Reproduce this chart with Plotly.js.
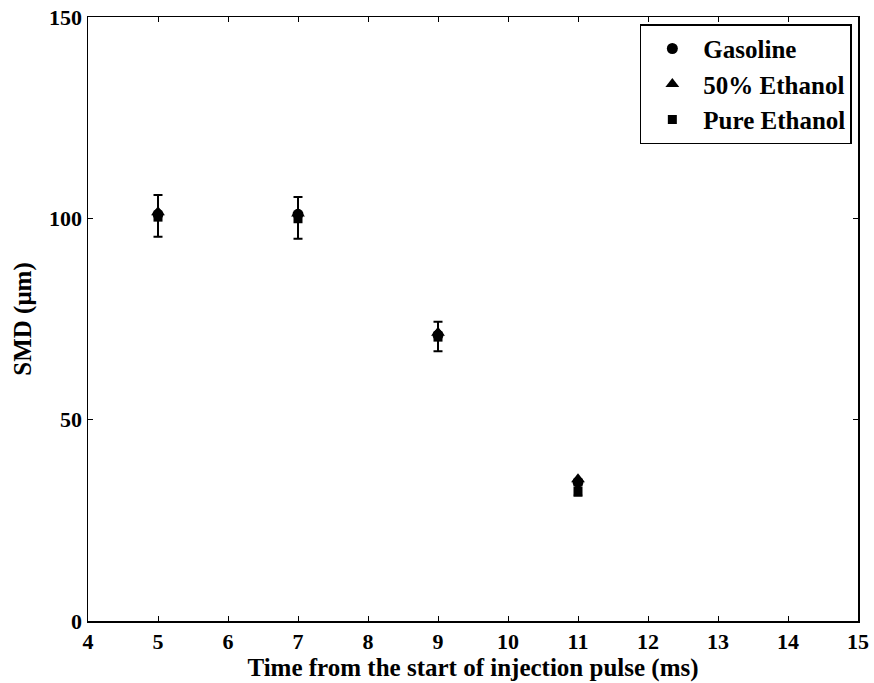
<!DOCTYPE html>
<html>
<head>
<meta charset="utf-8">
<script src="https://cdn.plot.ly/plotly-3.0.1.min.js"></script>
<style>html,body{margin:0;padding:0;background:#fff;}#chart{width:874px;height:683px;}</style>
</head>
<body>
<div id="chart"></div>
<script>
const times = [5, 7, 9, 11];
const gasoline = [101, 101, 71, 34.5];
const ethanol50 = [101.5, 101.2, 71.6, 35.2];
const pureEthanol = [100.3, 99.9, 70.5, 32.3];
const errPlus = [5.5, 5.4, 3.8, 1.5];
const errMinus = [4.9, 5.0, 3.5, 1.2];
const seriesNames = ['Gasoline', '50% Ethanol', 'Pure Ethanol'];
const xTicks = [4,5,6,7,8,9,10,11,12,13,14,15];
const yTicks = [0, 50, 100, 150];

const FONT = '"Liberation Serif", "Times New Roman", serif';
const traces = [
  {x: times, y: gasoline, name: '<b>' + seriesNames[0] + '</b>', mode: 'markers', type: 'scatter',
   marker: {symbol: 'circle', size: 11, color: '#000'}},
  {x: times, y: ethanol50, name: '<b>' + seriesNames[1] + '</b>', mode: 'markers', type: 'scatter',
   marker: {symbol: 'triangle-up', size: 12, color: '#000'}},
  {x: times, y: pureEthanol, name: '<b>' + seriesNames[2] + '</b>', mode: 'markers', type: 'scatter',
   marker: {symbol: 'square', size: 9, color: '#000'},
   error_y: {type: 'data', symmetric: false, array: errPlus, arrayminus: errMinus,
             color: '#000', thickness: 2, width: 4.5}}
];
const axisCommon = {
  showline: true, linecolor: '#000', linewidth: 1.5, mirror: 'allticks',
  ticks: 'inside', ticklen: 5, tickwidth: 1, tickcolor: '#000',
  showgrid: false, zeroline: false,
  tickfont: {family: FONT, size: 22, color: '#000'}
};
const layout = {
  width: 874, height: 683,
  margin: {l: 88, r: 16, t: 17, b: 62},
  paper_bgcolor: '#fff', plot_bgcolor: '#fff',
  font: {family: FONT, color: '#000'},
  xaxis: Object.assign({}, axisCommon, {
    range: [4, 15], tickmode: 'array', tickvals: xTicks, ticktext: xTicks.map(v => '<b>' + v + '</b>'),
    title: {text: '<b>Time from the start of injection pulse (ms)</b>', font: {family: FONT, size: 25, color: '#000'}, standoff: 0}
  }),
  yaxis: Object.assign({}, axisCommon, {
    range: [0, 150], tickmode: 'array', tickvals: yTicks, ticktext: yTicks.map(v => '<b>' + v + '</b>'),
    title: {text: '<b>SMD (μm)</b>', font: {family: FONT, size: 25, color: '#000'}, standoff: 10}
  }),
  showlegend: true,
  legend: {
    x: 0.992, y: 0.988, xanchor: 'right', yanchor: 'top',
    bgcolor: '#fff', bordercolor: '#000', borderwidth: 1.5,
    font: {family: FONT, size: 25, color: '#000'},
    itemwidth: 52, tracegroupgap: 0
  }
};
Plotly.newPlot('chart', traces, layout, {displayModeBar: false, staticPlot: true});
</script>
</body>
</html>
